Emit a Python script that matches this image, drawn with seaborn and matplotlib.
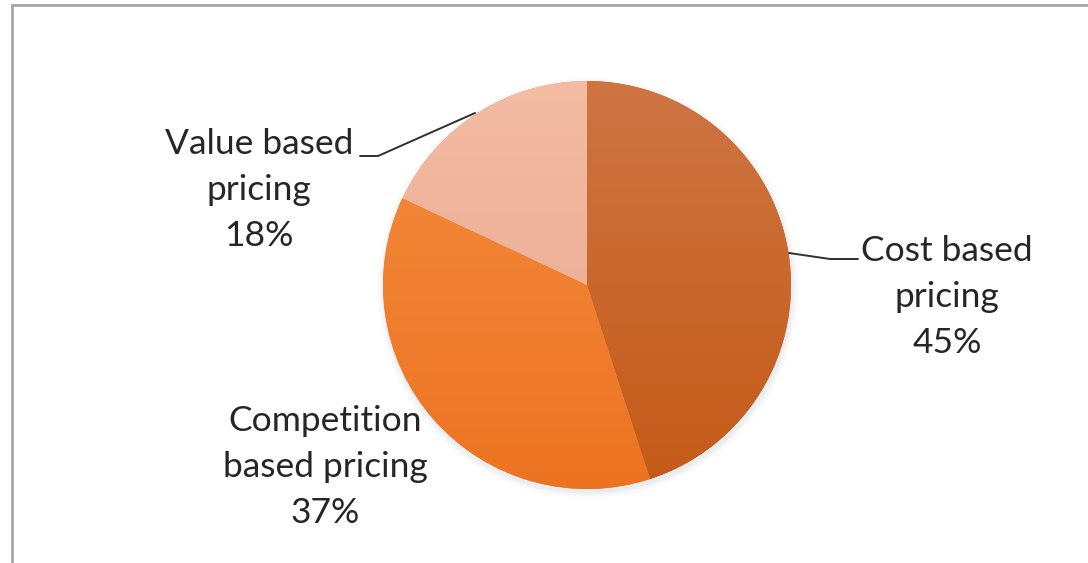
import numpy as np
import matplotlib
matplotlib.use("Agg")
import matplotlib.pyplot as plt
from matplotlib.colors import LinearSegmentedColormap
from matplotlib.lines import Line2D
import seaborn as sns

# Share of pricing strategies
categories = ["Cost based\npricing", "Competition\nbased pricing", "Value based\npricing"]
shares = [45, 37, 18]
# top / bottom shade of each slice
top_colors = ["#CE7543", "#F58D3E", "#F3BCA3"]
bottom_colors = ["#C45A17", "#EC7322", "#E6A68D"]

sns.set_theme(style="white")
plt.rcParams["font.family"] = ["Lato", "DejaVu Sans"]

W, H = 1088, 563
fig = plt.figure(figsize=(W / 100, H / 100), dpi=100)
fig.patch.set_facecolor("white")
ax = fig.add_axes([0, 0, 1, 1])

cx, cy, r = 587, 278, 204

# soft shadow under the pie
for k, a in enumerate(np.linspace(0.05, 0.01, 6)):
    ax.add_patch(plt.Circle((cx + 1, cy - 3), r + 1 + k * 1.2, color="#9aa6b8",
                            alpha=a, lw=0, zorder=0.5))

wedges, _ = ax.pie(shares, center=(cx, cy), radius=r, startangle=90,
                   counterclock=False, colors=bottom_colors,
                   wedgeprops=dict(linewidth=0), frame=True)
ax.set_xlim(0, W)
ax.set_ylim(0, H)
ax.set_aspect("equal")
ax.axis("off")

grad = np.linspace(0, 1, 256).reshape(-1, 1)
for w, c0, c1 in zip(wedges, top_colors, bottom_colors):
    cmap = LinearSegmentedColormap.from_list("shade", [c0, c1])
    im = ax.imshow(grad, cmap=cmap, extent=(cx - r, cx + r, cy - r, cy + r),
                   origin="upper", aspect="auto", zorder=2)
    im.set_clip_path(w)

txt_kw = dict(fontsize=25.5, color="#262626", ha="center", va="center",
              linespacing=1.54, zorder=5)
pct = [f"{v}%" for v in shares]
ax.text(947, H - 297, f"{categories[0]}\n{pct[0]}", **txt_kw)
ax.text(325, H - 467, f"{categories[1]}\n{pct[1]}", **txt_kw)
ax.text(259, H - 190, f"{categories[2]}\n{pct[2]}", **txt_kw)

# leader lines
ax.add_line(Line2D([360, 378, 475], [H - 156, H - 156, H - 113],
                   color="#303030", lw=1.4, zorder=6))
ax.add_line(Line2D([789, 830, 858], [H - 253, H - 259, H - 259],
                   color="#303030", lw=1.4, zorder=6))

# chart frame (top and left edges)
fig.add_artist(Line2D([12 / W, 1], [1 - 5 / H, 1 - 5 / H], transform=fig.transFigure,
                      color="#A6A6A6", lw=2))
fig.add_artist(Line2D([12 / W, 12 / W], [0, 1 - 5 / H], transform=fig.transFigure,
                      color="#A6A6A6", lw=2))

fig.savefig("out.png", dpi=100)
